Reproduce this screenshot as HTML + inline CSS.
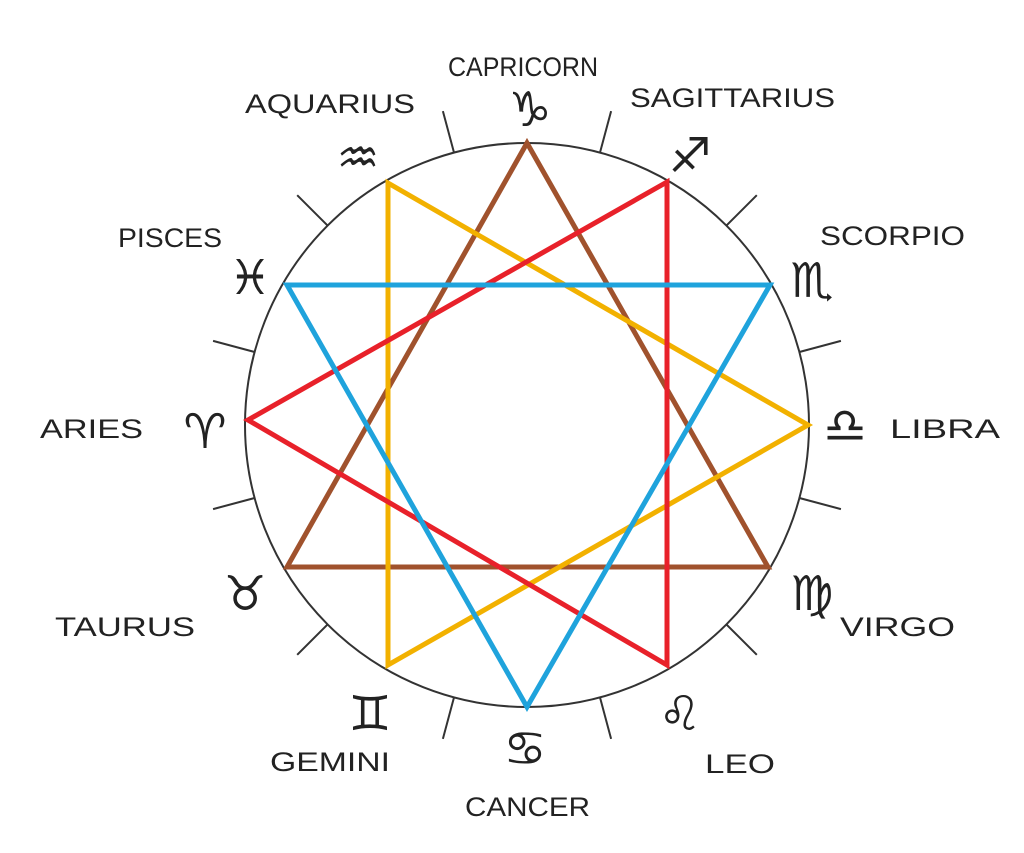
<!DOCTYPE html>
<html><head><meta charset="utf-8"><style>
html,body{margin:0;padding:0;background:#fff;}
svg{display:block;}
.l{font-family:"Liberation Sans",sans-serif;font-size:27px;fill:#222;}
.g{font-family:"DejaVu Sans",sans-serif;font-size:48px;fill:#222;}
</style></head><body>
<svg width="1024" height="853" viewBox="0 0 1024 853" xmlns="http://www.w3.org/2000/svg">
<rect width="1024" height="853" fill="#fff"/>
<circle cx="527" cy="425" r="282" fill="none" stroke="#333" stroke-width="2"/>
<g stroke="#333" stroke-width="2">
<line x1="809" y1="425" x2="852" y2="425" transform="rotate(-15 527 425)"/>
<line x1="809" y1="425" x2="852" y2="425" transform="rotate(-45 527 425)"/>
<line x1="809" y1="425" x2="852" y2="425" transform="rotate(-75 527 425)"/>
<line x1="809" y1="425" x2="852" y2="425" transform="rotate(-105 527 425)"/>
<line x1="809" y1="425" x2="852" y2="425" transform="rotate(-135 527 425)"/>
<line x1="809" y1="425" x2="852" y2="425" transform="rotate(-165 527 425)"/>
<line x1="809" y1="425" x2="852" y2="425" transform="rotate(165 527 425)"/>
<line x1="809" y1="425" x2="852" y2="425" transform="rotate(135 527 425)"/>
<line x1="809" y1="425" x2="852" y2="425" transform="rotate(105 527 425)"/>
<line x1="809" y1="425" x2="852" y2="425" transform="rotate(75 527 425)"/>
<line x1="809" y1="425" x2="852" y2="425" transform="rotate(45 527 425)"/>
<line x1="809" y1="425" x2="852" y2="425" transform="rotate(15 527 425)"/>
</g>
<g fill="none" stroke-width="5" stroke-linejoin="miter">
<polygon points="527,143 768,567 287,567" stroke="#a0522d"/>
<polygon points="388,183 808,425 388,665" stroke="#f2b100"/>
<polygon points="667,182 248,420 667,665" stroke="#e8212a"/>
<polygon points="287,285 770,285 527,707" stroke="#1fa3dc"/>
</g>
<text class="l" x="448" y="76" textLength="150" lengthAdjust="spacingAndGlyphs">CAPRICORN</text>
<text class="l" x="630" y="107" textLength="205" lengthAdjust="spacingAndGlyphs">SAGITTARIUS</text>
<text class="l" x="245" y="113" textLength="170" lengthAdjust="spacingAndGlyphs">AQUARIUS</text>
<text class="l" x="820" y="245" textLength="145" lengthAdjust="spacingAndGlyphs">SCORPIO</text>
<text class="l" x="118" y="247" textLength="104" lengthAdjust="spacingAndGlyphs">PISCES</text>
<text class="l" x="890" y="438" textLength="110" lengthAdjust="spacingAndGlyphs">LIBRA</text>
<text class="l" x="40" y="438" textLength="103" lengthAdjust="spacingAndGlyphs">ARIES</text>
<text class="l" x="55" y="636" textLength="140" lengthAdjust="spacingAndGlyphs">TAURUS</text>
<text class="l" x="840" y="636" textLength="115" lengthAdjust="spacingAndGlyphs">VIRGO</text>
<text class="l" x="270" y="771" textLength="120" lengthAdjust="spacingAndGlyphs">GEMINI</text>
<text class="l" x="705" y="773" textLength="70" lengthAdjust="spacingAndGlyphs">LEO</text>
<text class="l" x="465" y="816" textLength="125" lengthAdjust="spacingAndGlyphs">CANCER</text>
<g class="g" text-anchor="middle">
<text x="530" y="126">♑</text>
<text x="690" y="172">♐</text>
<text x="358" y="174">♒</text>
<text x="812" y="297">♏</text>
<text x="250" y="294">♓</text>
<text x="845" y="442">♎</text>
<text x="205" y="448">♈</text>
<text x="245" y="610">♉</text>
<text x="812" y="610">♍</text>
<text x="370" y="730">♊</text>
<text x="680" y="730">♌</text>
<text x="525" y="765">♋</text>
</g>
</svg>
</body></html>
